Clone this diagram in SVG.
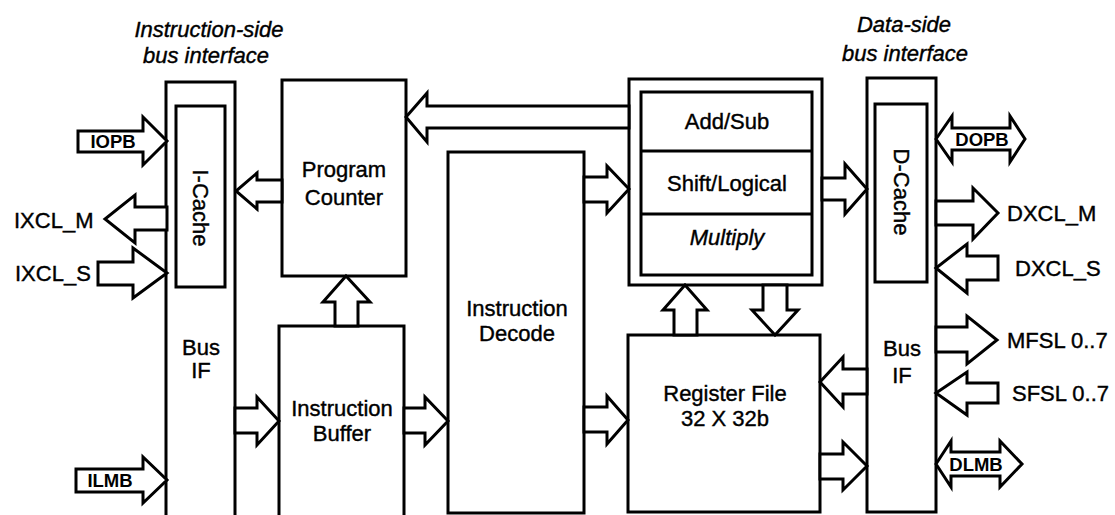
<svg xmlns="http://www.w3.org/2000/svg" width="1115" height="515" viewBox="0 0 1115 515">
  <style>
    .box { fill: #fff; stroke: #000; stroke-width: 3; }
    .open { fill: none; stroke: #000; stroke-width: 3; }
    .arrow { fill: #fff; stroke: #000; stroke-width: 3; stroke-linejoin: miter; }
    text { font-family: "Liberation Sans", Arial, sans-serif; font-size: 22px; fill: #000; stroke: #000; stroke-width: 0.4; }
    .c { text-anchor: middle; }
    .it { font-style: italic; }
    .bus { font-size: 18.5px; font-weight: bold; text-anchor: middle; stroke-width: 0; }
    .rot { text-anchor: middle; dominant-baseline: central; }
  </style>
  <rect width="1115" height="515" fill="#fff"/>

  <!-- headings -->
  <g id="heading-iside">
    <text class="c it" x="209" y="37">Instruction-side</text>
    <text class="c it" x="206" y="63">bus interface</text>
  </g>
  <g id="heading-dside">
    <text class="c it" x="904" y="32">Data-side</text>
    <text class="c it" x="905" y="61">bus interface</text>
  </g>

  <!-- instruction-side bus interface -->
  <g id="ibusif">
    <path class="open" d="M166,520 V82 H235 V520"/>
    <text class="c" x="201" y="355">Bus</text>
    <text class="c" x="201" y="378">IF</text>
  </g>
  <g id="icache">
    <rect class="box" x="176" y="106" width="49" height="181"/>
    <text class="rot" transform="translate(200,208) rotate(90)">I-Cache</text>
  </g>

  <g id="program-counter">
    <rect class="box" x="282" y="80" width="124" height="196"/>
    <text class="c" x="344" y="177">Program</text>
    <text class="c" x="344" y="205">Counter</text>
  </g>

  <g id="instruction-buffer">
    <path class="open" d="M279,520 V326 H404 V520"/>
    <text class="c" x="342" y="416">Instruction</text>
    <text class="c" x="342" y="441">Buffer</text>
  </g>

  <g id="instruction-decode">
    <rect class="box" x="448" y="152" width="136" height="361"/>
    <text class="c" x="517" y="316">Instruction</text>
    <text class="c" x="517" y="341">Decode</text>
  </g>

  <g id="alu">
    <rect class="box" x="629" y="79" width="193" height="206"/>
    <rect class="box" x="641" y="92" width="171" height="183"/>
    <line class="open" x1="641" y1="151" x2="812" y2="151"/>
    <line class="open" x1="641" y1="214" x2="812" y2="214"/>
    <text class="c" x="727" y="129">Add/Sub</text>
    <text class="c" x="727" y="191">Shift/Logical</text>
    <text class="c it" x="727" y="245">Multiply</text>
  </g>

  <g id="register-file">
    <rect class="box" x="628" y="335" width="192" height="177"/>
    <text class="c" x="725" y="401">Register File</text>
    <text class="c" x="725" y="426">32 X 32b</text>
  </g>

  <!-- data-side bus interface -->
  <g id="dbusif">
    <rect class="box" x="867" y="78" width="69" height="434"/>
    <text class="c" x="902" y="356">Bus</text>
    <text class="c" x="902" y="383">IF</text>
  </g>
  <g id="dcache">
    <rect class="box" x="875" y="104" width="52" height="178"/>
    <text class="rot" transform="translate(901,192) rotate(90)">D-Cache</text>
  </g>

  <!-- bus connectors (hollow block arrows) -->
  <g id="connectors">
    <!-- IOPB in -->
    <polygon class="arrow" points="78,131 143,131 143,117 167,141 143,165 143,152 78,152"/>
    <!-- IXCL_M out -->
    <polygon class="arrow" points="167,207 135,207 135,195 105,219 135,243 135,230 167,230"/>
    <!-- IXCL_S in -->
    <polygon class="arrow" points="98,262 133,262 133,248 167,273 133,298 133,285 98,285"/>
    <!-- ILMB in -->
    <polygon class="arrow" points="76,469 143,469 143,457 167,480 143,503 143,492 76,492"/>
    <!-- Bus IF to Instruction Buffer -->
    <polygon class="arrow" points="235,408 257,408 257,397 279,421 257,445 257,433 235,433"/>
    <!-- Program Counter to I-Cache -->
    <polygon class="arrow" points="282,180 257,180 257,173 236,191 257,209 257,202 282,202"/>
    <!-- Instruction Buffer up to Program Counter -->
    <polygon class="arrow" points="335,326 335,302 323,302 346,276 370,302 358,302 358,326"/>
    <!-- Instruction Buffer to Instruction Decode -->
    <polygon class="arrow" points="404,408 425,408 425,397 448,421 425,445 425,433 404,433"/>
    <!-- Instruction Decode to ALU -->
    <polygon class="arrow" points="584,177 607,177 607,166 629,189 607,213 607,202 584,202"/>
    <!-- Instruction Decode to Register File -->
    <polygon class="arrow" points="584,407 607,407 607,396 628,420 607,444 607,432 584,432"/>
    <!-- ALU back to Program Counter -->
    <polygon class="arrow" points="629,106 427,106 427,93 406,117 427,142 427,128 629,128"/>
    <!-- Register File up to ALU -->
    <polygon class="arrow" points="674,335 674,310 663,310 685,285 707,310 697,310 697,335"/>
    <!-- ALU down to Register File -->
    <polygon class="arrow" points="763,285 763,310 752,310 775,335 798,310 787,310 787,285"/>
    <!-- ALU to D-side Bus IF -->
    <polygon class="arrow" points="822,178 845,178 845,164 867,189 845,214 845,200 822,200"/>
    <!-- D-side Bus IF to Register File -->
    <polygon class="arrow" points="867,369 843,369 843,357 820,382 843,407 843,394 867,394"/>
    <!-- Register File to D-side Bus IF -->
    <polygon class="arrow" points="820,454 843,454 843,442 867,466 843,490 843,479 820,479"/>
    <!-- DOPB both ways -->
    <polygon class="arrow" points="936,139 952,116 952,128 1010,128 1010,116 1025,139 1010,162 1010,150 952,150 952,162"/>
    <!-- DXCL_M out -->
    <polygon class="arrow" points="936,201 973,201 973,188 998,213 973,239 973,225 936,225"/>
    <!-- DXCL_S in -->
    <polygon class="arrow" points="998,256 967,256 967,244 936,268 967,293 967,280 998,280"/>
    <!-- MFSL out -->
    <polygon class="arrow" points="936,327 967,327 967,316 997,340 967,364 967,352 936,352"/>
    <!-- SFSL in -->
    <polygon class="arrow" points="998,383 967,383 967,372 936,393 967,415 967,403 998,403"/>
    <!-- DLMB both ways -->
    <polygon class="arrow" points="936,464 951,441 951,452 1000,452 1000,441 1022,464 1000,487 1000,476 951,476 951,487"/>
  </g>

  <!-- bus labels -->
  <g id="labels">
    <text class="bus" x="113" y="148">IOPB</text>
    <text x="14" y="228">IXCL_M</text>
    <text x="15" y="281">IXCL_S</text>
    <text class="bus" x="110" y="487">ILMB</text>
    <text class="bus" x="982" y="146">DOPB</text>
    <text x="1007" y="221">DXCL_M</text>
    <text x="1015" y="276">DXCL_S</text>
    <text x="1007" y="348">MFSL 0..7</text>
    <text x="1012" y="401">SFSL 0..7</text>
    <text class="bus" x="976" y="471">DLMB</text>
  </g>
</svg>
